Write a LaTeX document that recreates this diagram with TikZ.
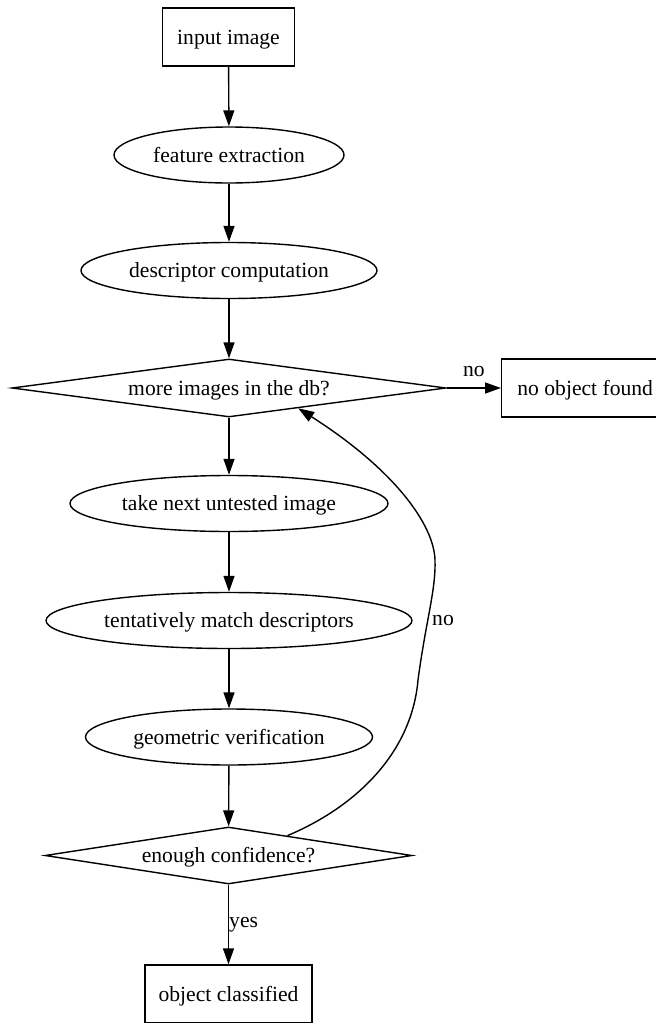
\documentclass[tikz,border=0pt]{standalone}
\usepackage{fontspec}
\setmainfont{Liberation Serif}
\usetikzlibrary{shapes.geometric,arrows.meta,calc}
% node text of zero width, so that the given minimum sizes set the outline
\newcommand\gvtext[1]{\makebox[0pt]{#1}}
\newcommand\gvfont{\fontsize{21.6}{26}\selectfont}
\tikzset{
  base/.style={draw, line width=1.4pt, inner sep=0pt, font=\gvfont,
               text height=16.5pt, text depth=2.5pt},
  box/.style={base, rectangle, minimum height=58pt},
  oval/.style={base, ellipse, minimum height=56pt},
  decision/.style={base, diamond},
  edge/.style={line width=1.4pt, -{Triangle[length=16pt,width=11pt]}},
  lbl/.style={font=\gvfont, inner sep=0pt}
}
\begin{document}
\begin{tikzpicture}[x=1pt, y=-1pt]
  \useasboundingbox (0,0) rectangle (656,1023);
  \clip (0,0) rectangle (656,1023);

  % main column
  \node[box, minimum width=132pt] (input) at (228.5,37) {input image};
  \node[oval, minimum width=230pt] (feat) at (229,155) {\gvtext{feature extraction}};
  \node[oval, minimum width=296pt] (desc) at (229,270.5) {\gvtext{descriptor computation}};
  \node[decision, minimum width=434pt, minimum height=58pt] (more) at (229,388) {\gvtext{more images in the db?}};
  \node[box, minimum width=167pt, anchor=west] (nofound) at (501,388) {no object found};
  \node[oval, minimum width=318pt] (next) at (229,503.5) {\gvtext{take next untested image}};
  \node[oval, minimum width=366pt] (match) at (229,620.5) {\gvtext{tentatively match descriptors}};
  \node[oval, minimum width=287pt] (geo) at (229,737) {\gvtext{geometric verification}};
  \node[decision, minimum width=367pt, minimum height=57pt] (conf) at (228.5,855.5) {\gvtext{enough confidence?}};
  \node[box, minimum width=167pt] (classified) at (228.5,994) {object classified};

  % straight connectors
  \draw[edge] (input) -- (feat);
  \draw[edge] (feat) -- (desc);
  \draw[edge] (desc) -- (more);
  \draw[edge] (more) -- (next);
  \draw[edge] (next) -- (match);
  \draw[edge] (match) -- (geo);
  \draw[edge] (geo) -- (conf);
  \draw[edge] (more.east) -- (nofound.west);
  \node[lbl] (nolabel) at ($(more.east)!0.5!(nofound.west)+(0,-16)$) {no};
  \draw[edge] (conf) -- node[lbl, midway, right] (yeslabel) {yes} (classified);

  % loop back to the database test
  \coordinate (loopstart) at ($(conf.north)!0.32!(conf.east)$);
  \coordinate (loopend) at ($(more.south)!0.318!(more.east)$);
  \draw[edge] (loopstart)
    .. controls (360,805) and (412,750) .. (418,680)
    .. controls (426,620) and (436,590) .. (435,560)
    .. controls (434,525) and (395,470) .. (loopend);
  \node[lbl, anchor=west] (backno) at (432,621) {no};
\end{tikzpicture}
\end{document}
